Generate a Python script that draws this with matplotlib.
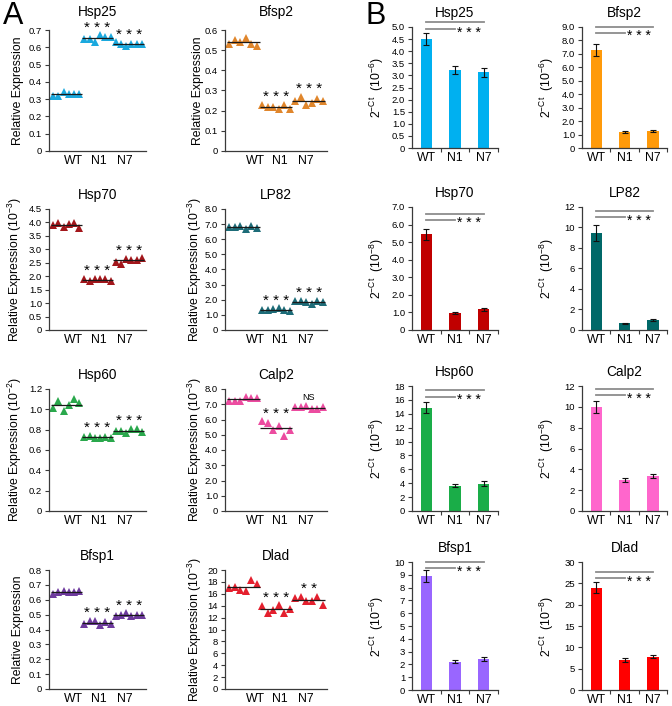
import numpy as np
import matplotlib
matplotlib.use('Agg')
import matplotlib.pyplot as plt
from matplotlib.ticker import FixedLocator, FuncFormatter
import matplotlib.transforms as mtransforms

plt.rcParams['font.family'] = ['Liberation Sans', 'DejaVu Sans']
plt.rcParams['mathtext.default'] = 'regular'

groups = ['WT', 'N1', 'N7']

# panel A: six replicates per group (WT, N1, N7)
hsp25_a = [[0.32, 0.32, 0.34, 0.33, 0.33, 0.33], [0.65, 0.65, 0.63, 0.67, 0.66, 0.66], [0.63, 0.62, 0.61, 0.62, 0.62, 0.62]]
bfsp2_a = [[0.53, 0.55, 0.54, 0.56, 0.53, 0.52], [0.23, 0.22, 0.22, 0.21, 0.23, 0.21], [0.25, 0.27, 0.23, 0.24, 0.26, 0.25]]
hsp70_a = [[3.92, 3.98, 3.83, 3.94, 3.98, 3.79], [1.90, 1.84, 1.89, 1.89, 1.89, 1.84], [2.52, 2.45, 2.65, 2.61, 2.61, 2.67]]
lp82_a = [[6.8, 6.8, 6.85, 6.7, 6.9, 6.75], [1.3, 1.35, 1.4, 1.45, 1.3, 1.25], [1.9, 1.95, 1.85, 1.75, 1.9, 1.85]]
hsp60_a = [[1.01, 1.08, 0.98, 1.04, 1.10, 1.06], [0.73, 0.74, 0.72, 0.72, 0.73, 0.72], [0.79, 0.79, 0.77, 0.81, 0.81, 0.78]]
calp2_a = [[7.2, 7.2, 7.2, 7.5, 7.4, 7.4], [5.9, 5.8, 5.3, 5.6, 4.9, 5.3], [6.8, 6.8, 6.9, 6.7, 6.7, 6.8]]
bfsp1_a = [[0.64, 0.65, 0.66, 0.65, 0.65, 0.66], [0.44, 0.46, 0.46, 0.43, 0.45, 0.44], [0.49, 0.50, 0.51, 0.49, 0.50, 0.50]]
dlad_a = [[17.0, 17.1, 16.6, 16.5, 18.3, 17.6], [13.9, 12.7, 13.3, 14.1, 12.8, 13.5], [15.3, 15.5, 14.8, 14.8, 15.5, 14.1]]

# panel B: mean and error per group
hsp25_b = [4.52, 3.22, 3.12]
hsp25_b_err = [0.25, 0.18, 0.18]
bfsp2_b = [7.3, 1.2, 1.25]
bfsp2_b_err = [0.42, 0.08, 0.08]
hsp70_b = [5.45, 0.95, 1.18]
hsp70_b_err = [0.3, 0.06, 0.08]
lp82_b = [9.45, 0.65, 0.95]
lp82_b_err = [0.75, 0.06, 0.1]
hsp60_b = [14.9, 3.65, 3.95]
hsp60_b_err = [0.8, 0.25, 0.3]
calp2_b = [10.0, 2.95, 3.38]
calp2_b_err = [0.6, 0.2, 0.2]
bfsp1_b = [8.9, 2.2, 2.4]
bfsp1_b_err = [0.45, 0.12, 0.15]
dlad_b = [24.0, 7.0, 7.8]
dlad_b_err = [1.2, 0.4, 0.4]

W, H = 672, 706
fig = plt.figure(figsize=(W / 100, H / 100), dpi=100)


def axes_px(left, width, bottom, top):
    return fig.add_axes([left / W, 1 - bottom / H, width / W, (bottom - top) / H])


def fmt(dec):
    return FuncFormatter(lambda v, p: '0' if abs(v) < 1e-9 else f'{v:.{dec}f}')


def style(ax, title, ymax, ystep, dec, pad=7):
    for s in ['top', 'right']:
        ax.spines[s].set_visible(False)
    for s in ['left', 'bottom']:
        ax.spines[s].set_color('#3a3a3a')
        ax.spines[s].set_linewidth(0.9)
    ax.set_ylim(0, ymax)
    ax.yaxis.set_major_locator(FixedLocator(np.arange(0, ymax + ystep / 2, ystep)))
    ax.yaxis.set_major_formatter(fmt(dec))
    ax.tick_params(axis='y', direction='out', length=3, width=0.8, labelsize=6.8,
                   color='#3a3a3a', pad=2)
    ax.set_title(title, fontsize=9.8, pad=pad)


# (title, data, colour, ymax, ystep, decimals, unit, labels above groups)
panels_a = [
    ('Hsp25', hsp25_a, '#1ba9de', 0.7, 0.1, 1, '', ['', '***', '***']),
    ('Bfsp2', bfsp2_a, '#e0862c', 0.6, 0.1, 1, '', ['', '***', '***']),
    ('Hsp70', hsp70_a, '#a3161b', 4.5, 0.5, 1, '3', ['', '***', '***']),
    ('LP82', lp82_a, '#1d6c78', 8.0, 1.0, 1, '3', ['', '***', '***']),
    ('Hsp60', hsp60_a, '#2aa84c', 1.2, 0.2, 1, '2', ['', '***', '***']),
    ('Calp2', calp2_a, '#ec4ca0', 8.0, 1.0, 1, '3', ['', '***', 'NS']),
    ('Bfsp1', bfsp1_a, '#6e3a9e', 0.8, 0.1, 1, '', ['', '***', '***']),
    ('Dlad', dlad_a, '#e4202e', 20, 2, 0, '3', ['', '***', '**']),
]

panels_b = [
    ('Hsp25', hsp25_b, hsp25_b_err, '#00b0f0', 5.0, 0.5, 1, '6', (1.04, 0.98)),
    ('Bfsp2', bfsp2_b, bfsp2_b_err, '#ff9a0a', 9.0, 1.0, 1, '6', (1.0, 0.95)),
    ('Hsp70', hsp70_b, hsp70_b_err, '#c00000', 7.0, 1.0, 1, '8', (0.945, 0.895)),
    ('LP82', lp82_b, lp82_b_err, '#006868', 12, 2, 0, '8', (0.97, 0.915)),
    ('Hsp60', hsp60_b, hsp60_b_err, '#1aad48', 18, 2, 0, '8', (0.968, 0.914)),
    ('Calp2', calp2_b, calp2_b_err, '#ff66cc', 12, 2, 0, '8', (0.974, 0.926)),
    ('Bfsp1', bfsp1_b, bfsp1_b_err, '#9966ff', 10, 1, 0, '6', (1.0, 0.95)),
    ('Dlad', dlad_b, dlad_b_err, '#ff0000', 30, 5, 0, '8', (0.92, 0.875)),
]

rows_a = [(151, 30), (330, 209), (511, 389), (689, 570)]
rows_b = [(148, 27), (330, 207), (511, 386), (690, 562)]
cols_a = [(49, 97), (225, 102)]
cols_b = [(412, 86), (582, 85)]
label_x_a = [-0.26, -0.21]
xtick_a = [[4.8, 9.7, 14.7], [5.7, 10.2, 15.0]]

# ---- panel A: replicate dot plots ----
for k, (title, data, color, ymax, ystep, dec, unit, marks) in enumerate(panels_a):
    r, c = divmod(k, 2)
    ax = axes_px(cols_a[c][0], cols_a[c][1], rows_a[r][0], rows_a[r][1])
    style(ax, title, ymax, ystep, dec, pad=10 if r == 0 else 7)
    for g, vals in enumerate(data):
        x = g * 6 + np.arange(1, len(vals) + 1)
        ax.plot(x, vals, ls='none', marker='^', ms=5.8, mew=0, color=color, zorder=2)
        ax.hlines(np.mean(vals), x[0] - 0.5, x[-1] + 0.5, color='#1a1a1a', lw=0.9, zorder=3)
        if marks[g]:
            star = marks[g] != 'NS'
            ax.annotate(' '.join(marks[g]) if star else marks[g],
                        (x.mean(), max(vals)), xytext=(0, 2.5 if star else 4.5),
                        textcoords='offset points', ha='center', va='baseline',
                        fontsize=11 if star else 6.5, annotation_clip=False)
    ax.set_xlim(0.2, 18.8)
    ax.set_xticks(xtick_a[c])
    ax.set_xticklabels(groups)
    ax.tick_params(axis='x', length=0, labelsize=8.8, pad=3)
    lab = 'Relative Expression' + (f' (10$^{{-{unit}}}$)' if unit else '')
    ax.set_ylabel(lab, fontsize=8.8)
    ax.yaxis.set_label_coords(label_x_a[c], 0.5)

# ---- panel B: bar charts ----
for k, (title, vals, err, color, ymax, ystep, dec, unit, sig) in enumerate(panels_b):
    r, c = divmod(k, 2)
    ax = axes_px(cols_b[c][0], cols_b[c][1], rows_b[r][0], rows_b[r][1])
    style(ax, title, ymax, ystep, dec)
    xs = np.arange(len(groups))
    ax.bar(xs, vals, width=0.4, color=color, zorder=2)
    ax.errorbar(xs, vals, yerr=err, fmt='none', ecolor='#111111', elinewidth=0.8,
                capsize=2, capthick=0.8, zorder=3)
    ax.set_xlim(-0.5, 2.5)
    ax.set_xticks(xs)
    ax.set_xticklabels(groups)
    ax.set_xticks([0.5, 1.5, 2.5], minor=True)
    ax.tick_params(axis='x', which='major', length=0, labelsize=8.8, pad=3)
    ax.tick_params(axis='x', which='minor', length=3, width=0.8, color='#3a3a3a')
    trans = mtransforms.blended_transform_factory(ax.transData, ax.transAxes)
    ax.plot([0, 2], [sig[0]] * 2, color='#8c8c8c', lw=1.3, transform=trans, clip_on=False)
    ax.plot([0, 1], [sig[1]] * 2, color='#8c8c8c', lw=1.3, transform=trans, clip_on=False)
    ax.text(1.08, sig[1] - 0.06, '* * *', transform=trans, ha='left', va='baseline',
            fontsize=10)
    ax.set_ylabel(f'2$^{{-Ct}}$  (10$^{{-{unit}}}$)', fontsize=8.8)
    ax.yaxis.set_label_coords(-0.3, 0.5)

fig.text(3 / W, 1 - 1 / H, 'A', fontsize=22, va='top', ha='left')
fig.text(366 / W, 1 - 1 / H, 'B', fontsize=22, va='top', ha='left')

fig.savefig('out.png', dpi=100)
